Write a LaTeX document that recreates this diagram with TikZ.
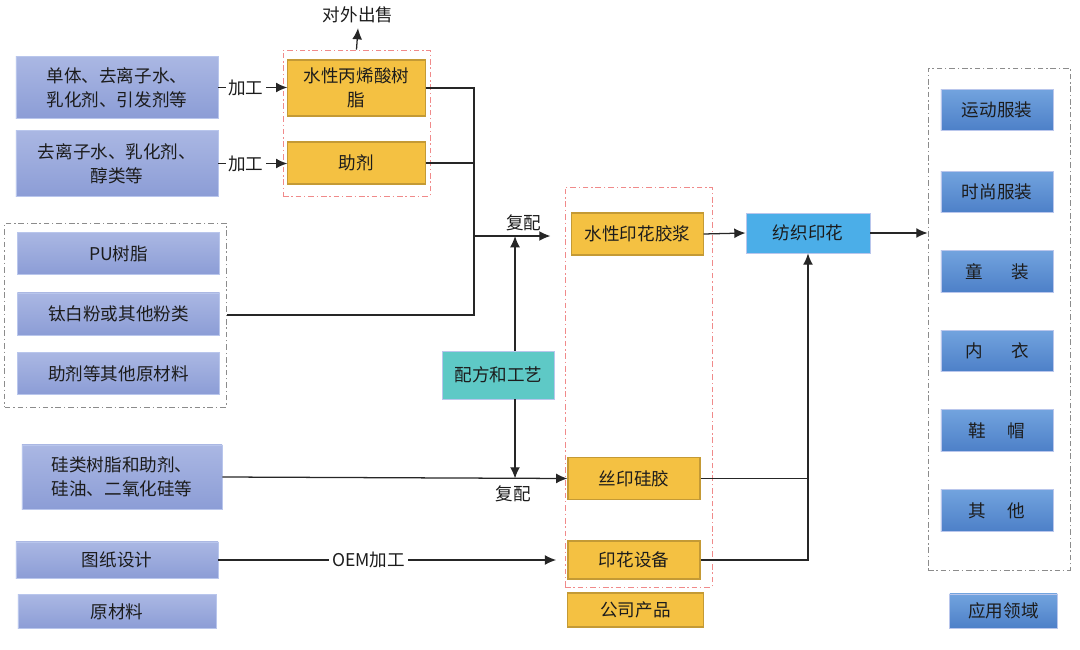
\documentclass[tikz,border=0pt]{standalone}
\usepackage{fontspec}
\setmainfont{Noto Sans CJK SC}
\usetikzlibrary{arrows.meta}

\definecolor{rawtop}{HTML}{AAB7E3}
\definecolor{rawbot}{HTML}{8C9DD6}
\definecolor{rawline}{HTML}{B9C6EC}
\definecolor{prodfill}{HTML}{F4C142}
\definecolor{prodline}{HTML}{C49A35}
\definecolor{apptop}{HTML}{72A3DE}
\definecolor{appbot}{HTML}{4D80C8}
\definecolor{recipefill}{HTML}{5EC9C6}
\definecolor{textilefill}{HTML}{4BAEE8}
\definecolor{grpred}{HTML}{F08A8A}
\definecolor{grpgray}{HTML}{8C8C8C}
\definecolor{inktext}{HTML}{1C1C1C}

\begin{document}
\begin{tikzpicture}[x=0.025cm,y=-0.025cm,
  every node/.style={font=\fontsize{12.5}{17}\selectfont, text=inktext},
  rawbox/.style={draw=rawline, line width=0.6pt, top color=rawtop, bottom color=rawbot, minimum width=5.05cm, align=center, inner sep=1pt},
  prodbox/.style={draw=prodline, line width=0.8pt, fill=prodfill, minimum width=3.3cm, align=center, inner sep=1pt},
  appbox/.style={draw=rawline, line width=0.6pt, top color=apptop, bottom color=appbot, minimum width=2.8cm, minimum height=1.03cm, inner sep=1pt},
  redgroup/.style={draw=grpred, line width=0.6pt, dash pattern=on 4pt off 2pt on 1pt off 2pt, inner sep=0pt},
  graygroup/.style={draw=grpgray, line width=0.6pt, dash pattern=on 4pt off 2pt on 1pt off 2pt, inner sep=0pt},
  flow/.style={draw=black!85, line width=0.9pt},
  flowarr/.style={flow, -{Latex[length=8pt,width=7pt]}},
  edgelbl/.style={fill=white, inner sep=2pt}]
  \useasboundingbox (0,0) rectangle (1080,650);

  % Raw materials
  \node[rawbox, minimum height=1.53cm] (mono) at (117,87.5) {单体、去离子水、\\乳化剂、引发剂等};
  \node[rawbox, minimum height=1.63cm] (water) at (117,163.5) {去离子水、乳化剂、\\醇类等};
  \node[graygroup, minimum width=5.53cm, minimum height=4.6cm] (mixgrp) at (115.5,315) {};
  \node[rawbox, minimum height=1.03cm] (pu) at (118.5,253.5) {PU树脂};
  \node[rawbox, minimum height=1.05cm] (tio) at (118.5,314) {钛白粉或其他粉类};
  \node[rawbox, minimum height=1.03cm] (other) at (118.5,373.5) {助剂等其他原材料};
  \node[rawbox, minimum width=5.0cm, minimum height=1.6cm] (silic) at (122,477) {硅类树脂和助剂、\\硅油、二氧化硅等};
  \node[rawbox, minimum height=0.9cm] (design) at (117,560) {图纸设计};
  \node[rawbox, minimum width=4.95cm, minimum height=0.83cm] (rawlbl) at (117,611.5) {原材料};

  % Company products
  \node[redgroup, minimum width=3.675cm, minimum height=3.65cm] (resgrp) at (356.5,123) {};
  \node[prodbox, minimum width=3.43cm, minimum height=1.4cm] (resin) at (356.5,88) {水性丙烯酸树\\脂};
  \node[prodbox, minimum width=3.43cm, minimum height=1.05cm] (addi) at (356.5,163) {助剂};
  \node (sale) at (358,15) {对外出售};
  \node[redgroup, minimum width=3.675cm, minimum height=10cm] (prodgrp) at (638.5,387) {};
  \node[prodbox, minimum width=3.28cm, minimum height=1.05cm] (paste) at (637.5,234) {水性印花胶浆};
  \node[prodbox, minimum height=1.03cm] (silk) at (634,478.5) {丝印硅胶};
  \node[prodbox, minimum height=0.95cm] (equip) at (634,560) {印花设备};
  \node[prodbox, minimum width=3.38cm, minimum height=0.85cm] (prodlbl) at (635.5,610) {公司产品};
  \node[draw=rawline, line width=0.6pt, fill=recipefill, minimum width=2.78cm, minimum height=1.2cm] (recipe) at (498.5,375) {配方和工艺};
  \node[draw=rawline, line width=0.6pt, fill=textilefill, minimum width=3.1cm, minimum height=1.0cm] (textile) at (808,233) {纺织印花};

  % Applications
  \node[graygroup, minimum width=3.55cm, minimum height=12.55cm] (appgrp) at (999,319) {};
  \node[appbox] (sport) at (997,110) {运动服装};
  \node[appbox] (fashion) at (997,192) {时尚服装};
  \node[appbox] (kids) at (997,271.5) {童\hspace{1.6em}装};
  \node[appbox] (under) at (997,351) {内\hspace{1.6em}衣};
  \node[appbox] (shoes) at (997,430.5) {鞋\hspace{1.2em}帽};
  \node[appbox] (misc) at (997,510.5) {其\hspace{1.2em}他};
  \node[appbox, minimum width=2.68cm, minimum height=0.85cm] (applbl) at (1003.5,611) {应用领域};

  % Connections
  \coordinate (mixpt) at (474,236);
  \coordinate (recx) at (515,375);
  \draw[flowarr] (resgrp.north) -- (sale.south);
  \draw[flowarr] (mono.east) -- node[edgelbl, pos=0.4] {加工} (mono.east -| resin.west);
  \draw[flowarr] (water.east) -- node[edgelbl, pos=0.4] {加工} (water.east -| addi.west);
  \draw[flow] (resin.east) -| (mixgrp.east -| mixpt) -- (mixgrp.east);
  \draw[flow] (addi.east) -- (addi.east -| mixpt);
  \draw[flowarr, shorten >=10pt] (mixpt) -- node[above, pos=0.55] {复配} (mixpt -| prodgrp.west);
  \draw[flowarr] (recipe.north -| recx) -- (recx |- mixpt);
  \draw[flowarr] (recipe.south -| recx) -- (recx |- silk.west);
  \node (mixlbl) at (513,494) {复配};
  \draw[flowarr] (silic.east) -- (silk.west);
  \draw[flowarr, shorten >=8pt] (design.east) -- node[edgelbl, pos=0.43] {OEM加工} (design.east -| equip.west);
  \draw[flowarr] (paste.east) -- (textile.west);
  \draw[flowarr] (textile.east) -- (textile.east -| appgrp.west);
  \draw[flow] (silk.east) -- (silk.east -| textile.south);
  \draw[flowarr] (equip.east) -| (textile.south);
\end{tikzpicture}
\end{document}
